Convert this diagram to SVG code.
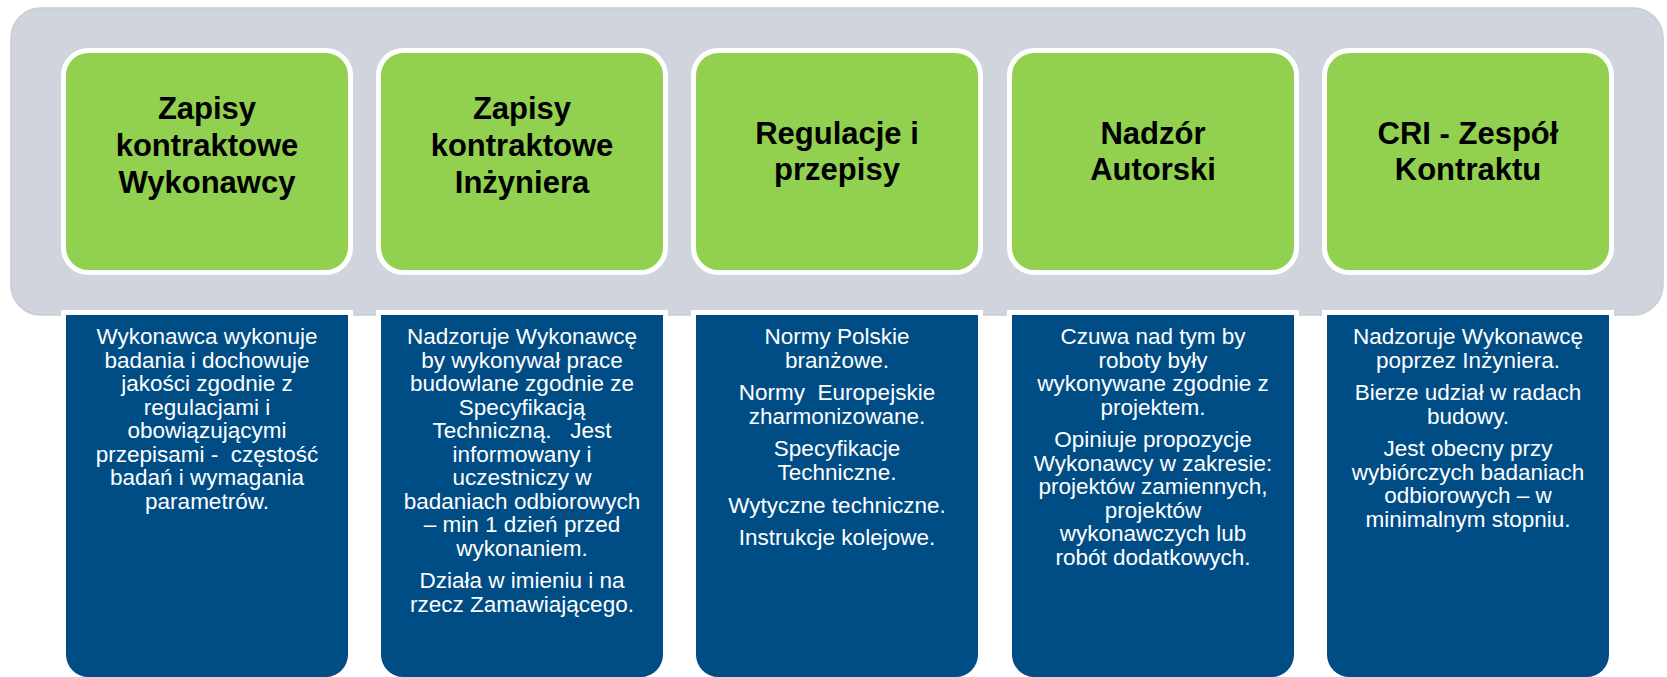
<svg xmlns="http://www.w3.org/2000/svg" width="1667" height="677" viewBox="0 0 1667 677">
<style>
.bg{fill:#d0d5dd;stroke:#c8ccd5;stroke-width:1.5}
.head{fill:#92d050;stroke:#ffffff;stroke-width:5}
.body{fill:#004d86;stroke:#ffffff;stroke-width:5}
.ht{font-family:"Liberation Sans",Arial,sans-serif;font-weight:bold;font-size:31px;fill:#000000;text-anchor:middle}
.bt{font-family:"Liberation Sans",Arial,sans-serif;font-size:22.5px;fill:#ffffff;text-anchor:middle}
</style>
<rect class="bg" x="11" y="8" width="1652" height="307" rx="30" ry="30"/>
<g id="connectors"/>
<g id="node1">
<rect class="head" x="63.5" y="50.5" width="287" height="222" rx="25" ry="25"/>
<text class="ht"><tspan x="207" y="119">Zapisy</tspan><tspan x="207" y="156">kontraktowe</tspan><tspan x="207" y="193">Wykonawcy</tspan></text>
<path class="body" d="M63.5 312.5 H350.5 V654.5 A25 25 0 0 1 325.5 679.5 H88.5 A25 25 0 0 1 63.5 654.5 Z"/>
<text class="bt"><tspan x="207" y="344">Wykonawca wykonuje</tspan><tspan x="207" y="367.5">badania i dochowuje</tspan><tspan x="207" y="391">jakości zgodnie z</tspan><tspan x="207" y="414.5">regulacjami i</tspan><tspan x="207" y="438">obowiązującymi</tspan><tspan x="207" y="461.5">przepisami -&#160; częstość</tspan><tspan x="207" y="485">badań i wymagania</tspan><tspan x="207" y="508.5">parametrów.</tspan></text>
</g>
<g id="node2">
<rect class="head" x="378.5" y="50.5" width="287" height="222" rx="25" ry="25"/>
<text class="ht"><tspan x="522" y="119">Zapisy</tspan><tspan x="522" y="156">kontraktowe</tspan><tspan x="522" y="193">Inżyniera</tspan></text>
<path class="body" d="M378.5 312.5 H665.5 V654.5 A25 25 0 0 1 640.5 679.5 H403.5 A25 25 0 0 1 378.5 654.5 Z"/>
<text class="bt"><tspan x="522" y="344">Nadzoruje Wykonawcę</tspan><tspan x="522" y="367.5">by wykonywał prace</tspan><tspan x="522" y="391">budowlane zgodnie ze</tspan><tspan x="522" y="414.5">Specyfikacją</tspan><tspan x="522" y="438">Techniczną. &#160; Jest</tspan><tspan x="522" y="461.5">informowany i</tspan><tspan x="522" y="485">uczestniczy w</tspan><tspan x="522" y="508.5">badaniach odbiorowych</tspan><tspan x="522" y="532">– min 1 dzień przed</tspan><tspan x="522" y="555.5">wykonaniem.</tspan><tspan x="522" y="588.2">Działa w imieniu i na</tspan><tspan x="522" y="611.7">rzecz Zamawiającego.</tspan></text>
</g>
<g id="node3">
<rect class="head" x="693.5" y="50.5" width="287" height="222" rx="25" ry="25"/>
<text class="ht"><tspan x="837" y="144">Regulacje i</tspan><tspan x="837" y="180">przepisy</tspan></text>
<path class="body" d="M693.5 312.5 H980.5 V654.5 A25 25 0 0 1 955.5 679.5 H718.5 A25 25 0 0 1 693.5 654.5 Z"/>
<text class="bt"><tspan x="837" y="344">Normy Polskie</tspan><tspan x="837" y="367.5">branżowe.</tspan><tspan x="837" y="400.2">Normy&#160; Europejskie</tspan><tspan x="837" y="423.7">zharmonizowane.</tspan><tspan x="837" y="456.4">Specyfikacje</tspan><tspan x="837" y="479.9">Techniczne.</tspan><tspan x="837" y="512.6">Wytyczne techniczne.</tspan><tspan x="837" y="545.3">Instrukcje kolejowe.</tspan></text>
</g>
<g id="node4">
<rect class="head" x="1009.5" y="50.5" width="287" height="222" rx="25" ry="25"/>
<text class="ht"><tspan x="1153" y="144">Nadzór</tspan><tspan x="1153" y="180">Autorski</tspan></text>
<path class="body" d="M1009.5 312.5 H1296.5 V654.5 A25 25 0 0 1 1271.5 679.5 H1034.5 A25 25 0 0 1 1009.5 654.5 Z"/>
<text class="bt"><tspan x="1153" y="344">Czuwa nad tym by</tspan><tspan x="1153" y="367.5">roboty były</tspan><tspan x="1153" y="391">wykonywane zgodnie z</tspan><tspan x="1153" y="414.5">projektem.</tspan><tspan x="1153" y="447.2">Opiniuje propozycje</tspan><tspan x="1153" y="470.7">Wykonawcy w zakresie:</tspan><tspan x="1153" y="494.2">projektów zamiennych,</tspan><tspan x="1153" y="517.7">projektów</tspan><tspan x="1153" y="541.2">wykonawczych lub</tspan><tspan x="1153" y="564.7">robót dodatkowych.</tspan></text>
</g>
<g id="node5">
<rect class="head" x="1324.5" y="50.5" width="287" height="222" rx="25" ry="25"/>
<text class="ht"><tspan x="1468" y="144">CRI - Zespół</tspan><tspan x="1468" y="180">Kontraktu</tspan></text>
<path class="body" d="M1324.5 312.5 H1611.5 V654.5 A25 25 0 0 1 1586.5 679.5 H1349.5 A25 25 0 0 1 1324.5 654.5 Z"/>
<text class="bt"><tspan x="1468" y="344">Nadzoruje Wykonawcę</tspan><tspan x="1468" y="367.5">poprzez Inżyniera.</tspan><tspan x="1468" y="400.2">Bierze udział w radach</tspan><tspan x="1468" y="423.7">budowy.</tspan><tspan x="1468" y="456.4">Jest obecny przy</tspan><tspan x="1468" y="479.9">wybiórczych badaniach</tspan><tspan x="1468" y="503.4">odbiorowych – w</tspan><tspan x="1468" y="526.9">minimalnym stopniu.</tspan></text>
</g>
</svg>
